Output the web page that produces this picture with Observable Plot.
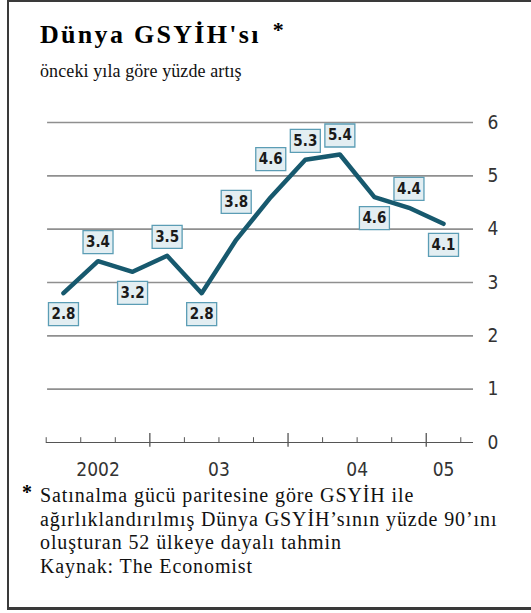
<!DOCTYPE html>
<html><head><meta charset="utf-8">
<script src="https://cdn.jsdelivr.net/npm/d3@7"></script>
<script src="https://cdn.jsdelivr.net/npm/@observablehq/plot@0.6"></script>
<style>
html,body{margin:0;padding:0;background:#fff;width:531px;height:613px;overflow:hidden;}
#frame{position:absolute;left:7px;top:0;width:524px;height:610px;box-sizing:border-box;border-left:2.5px solid #3a3a3a;border-top:2px solid #3a3a3a;border-bottom:3px solid #3a3a3a;}
#title{position:absolute;left:40px;top:22px;font:bold 26px/26px "Liberation Serif",serif;color:#000;white-space:nowrap;letter-spacing:2.3px;}
#title .ast{font-size:22px;position:relative;top:-6px;margin-left:12px;}
#subtitle{position:absolute;left:40px;top:62px;font:18px/18px "Liberation Serif",serif;color:#111;white-space:nowrap;letter-spacing:0.1px;}
#chart{position:absolute;left:0;top:95px;}
#star{position:absolute;left:22px;top:482px;font:bold 20px/20px "Liberation Serif",serif;}
#note{position:absolute;left:40px;top:484px;font:20px/23.5px "Liberation Serif",serif;color:#111;white-space:nowrap;letter-spacing:0.9px;}
</style></head>
<body>
<div id="frame"></div>
<div id="title">Dünya GSYİH'sı<span class="ast">*</span></div>
<div id="subtitle">önceki yıla göre yüzde artış</div>
<div id="chart"></div>
<div id="star">*</div>
<div id="note">Satınalma gücü paritesine göre GSYİH ile<br>ağırlıklandırılmış Dünya GSYİH’sının yüzde 90’ını<br>oluşturan 52 ülkeye dayalı tahmin<br>Kaynak: The Economist</div>
<script>
// Data
const quarters = ["2002 Q2","2002 Q3","2002 Q4","2003 Q1","2003 Q2","2003 Q3","2003 Q4","2004 Q1","2004 Q2","2004 Q3","2004 Q4","2005 Q1"];
const growth = [2.8, 3.4, 3.2, 3.5, 2.8, 3.8, 4.6, 5.3, 5.4, 4.6, 4.4, 4.1];
const labelSide = ["below","above","below","above","below","high","high","above","above","below","above","below"];
const yTicks = [0, 1, 2, 3, 4, 5, 6];
const yearLabels = ["2002", "03", "04", "05"];
const yearCenters = [2002.625, 2003.5, 2004.5, 2005.125];
const minorTicks = [2002.25, 2002.5, 2002.75, 2003.25, 2003.5, 2003.75, 2004.25, 2004.5, 2004.75, 2005.25];
const majorTicks = [2003, 2004, 2005];

const qx = s => { const [y, q] = s.split(" Q"); return +y + (+q - 1) / 4 + 0.125; };
const data = quarters.map((q, i) => ({x: qx(q), y: growth[i], side: labelSide[i], label: growth[i].toFixed(1)}));
const xDomain = [2002.25, 2005.342];
const years = yearLabels.map((t, i) => ({t, x: yearCenters[i]}));

const box = {draw(ctx) { ctx.rect(-15, -11.5, 30, 23); }};
const sideDy = {below: 21, above: -19, high: -38};
const sans = '"DejaVu Sans Condensed","Liberation Sans",Arial,sans-serif';

const labelMarks = Object.keys(sideDy).flatMap(side => {
  const sub = data.filter(d => d.side === side);
  return [
    Plot.dot(sub, {x: "x", y: "y", dy: sideDy[side], symbol: box, r: 10, fill: "#e3eef2", stroke: "#5b9db5", strokeWidth: 1.3}),
    Plot.text(sub, {x: "x", y: "y", dy: sideDy[side], text: "label", fontSize: 15, fontWeight: "bold", fill: "#1a1a1a", fontFamily: sans})
  ];
});

const chart = Plot.plot({
  width: 531, height: 390,
  marginLeft: 45.7, marginRight: 58, marginTop: 27, marginBottom: 43,
  style: {background: "transparent", fontFamily: sans, overflow: "visible"},
  x: {domain: xDomain, axis: null},
  y: {domain: [0, 6], axis: null},
  marks: [
    Plot.ruleY(yTicks.filter(v => v > 0), {x1: xDomain[0] + 0.01, x2: xDomain[1], stroke: "#8f8f8f", strokeWidth: 1.6}),
    Plot.ruleY([0], {x1: xDomain[0], x2: xDomain[1], stroke: "#555", strokeWidth: 1.2}),
    Plot.ruleX(minorTicks, {y1: 0, y2: 0.09, stroke: "#555", strokeWidth: 1}),
    Plot.ruleX(majorTicks, {y1: -0.09, y2: 0.17, stroke: "#555", strokeWidth: 1.3}),
    Plot.text(yTicks, {x: xDomain[1], y: d => d, dx: 14, textAnchor: "start", text: d => String(d), fontSize: 19, fill: "#333"}),
    Plot.text(years, {x: "x", y: 0, dy: 27, text: "t", fontSize: 19, fill: "#333"}),
    Plot.line(data, {x: "x", y: "y", stroke: "#17596e", strokeWidth: 4.5}),
    ...labelMarks
  ]
});
document.getElementById("chart").appendChild(chart);
</script>
</body></html>
